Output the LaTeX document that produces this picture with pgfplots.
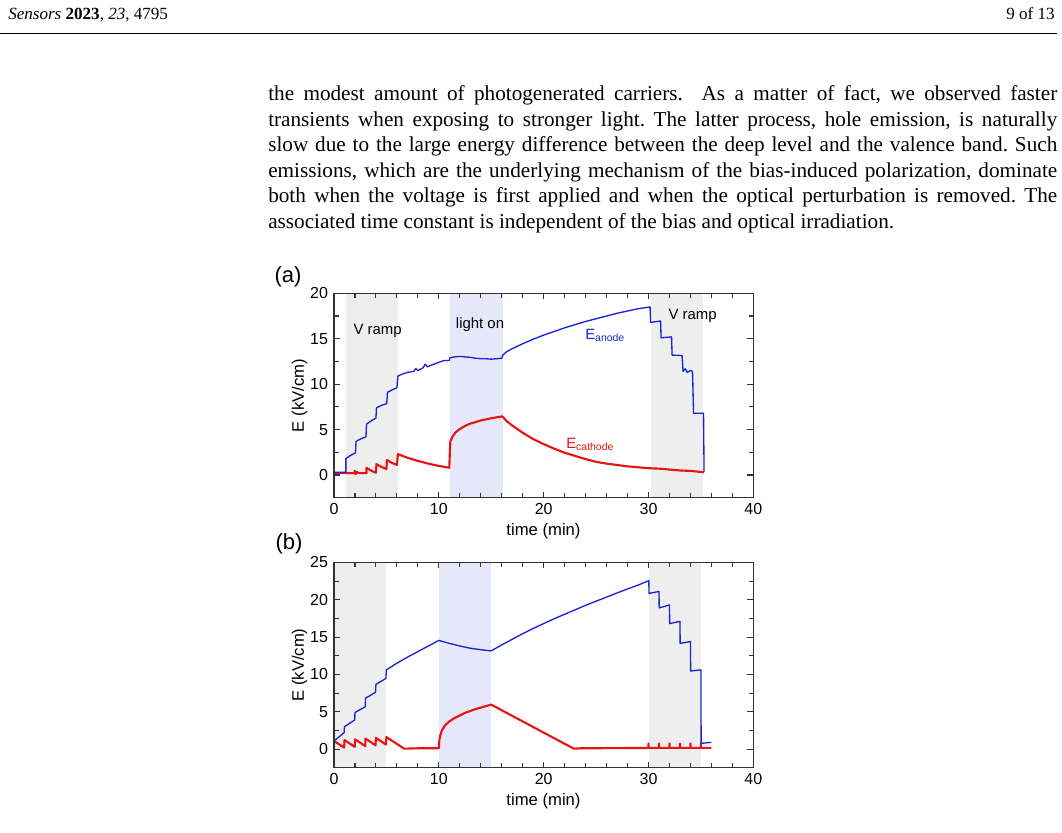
\documentclass[border=0pt]{standalone}
\usepackage{fontspec}
\setmainfont{Liberation Serif}
\newfontfamily\bodyfont{Liberation Serif}
\newfontfamily\chartfont{Liberation Sans}
\usepackage{pgfplots}
\pgfplotsset{compat=1.18}
\frenchspacing
\definecolor{lineblue}{RGB}{25,35,215}
\definecolor{linered}{RGB}{232,20,20}
\definecolor{shgray}{RGB}{238,238,238}
\definecolor{shblue}{RGB}{230,232,250}
\definecolor{axgray}{RGB}{50,50,50}
\newcommand{\tl}{\chartfont\fontsize{12}{13}\selectfont}
\newcommand{\al}{\chartfont\fontsize{12.5}{14}\selectfont}
\newcommand{\an}{\chartfont\fontsize{11.2}{13}\selectfont}
\pgfplotsset{
  panel/.style={
    scale only axis, width=314.5pt,
    xmin=0, xmax=40, ymin=-2.5,
    xtick={0,10,20,30,40}, minor x tick num=4, minor y tick num=1,
    tick align=inside, axis on top,
    major tick length=4.5pt, minor tick length=3.5pt,
    every tick/.style={axgray, line width=0.8pt},
    axis line style={axgray, line width=0.9pt},
    tick label style={font=\tl},
    /pgf/number format/assume math mode=true,
    xticklabel style={yshift=-1pt},
    yticklabel style={xshift=-1pt},
  }
}
\begin{document}
\begin{tikzpicture}
\begin{scope}[x=0.75pt,y=-0.75pt]
\useasboundingbox (0,0) rectangle (1062,832);
\coordinate (A) at (334,497.7);
\coordinate (B) at (334,767.7);
% header
\node[anchor=base west,inner sep=0] at (8,19.5) {\fontsize{12.8}{14}\selectfont\textit{Sensors} \textbf{2023}, \textit{23}, 4795};
\node[anchor=base east,inner sep=0] at (1055,19.5) {\fontsize{12.8}{14}\selectfont 9 of 13};
\draw[line width=1.1pt] (0,33.5) -- (1057,33.5);
% body text
\begin{scope}[every node/.style={anchor=base west,inner sep=0,font=\bodyfont\fontsize{15.9}{19}\selectfont}]
\node at (268,100.5) {\makebox[591.75pt][s]{the modest amount of photogenerated carriers.\ \ As a matter of fact, we observed faster}};
\node at (268,126.1) {\makebox[591.75pt][s]{transients when exposing to stronger light. The latter process, hole emission, is naturally}};
\node at (268,151.7) {\makebox[591.75pt][s]{slow due to the large energy difference between the deep level and the valence band. Such}};
\node at (268,177.3) {\makebox[591.75pt][s]{emissions, which are the underlying mechanism of the bias-induced polarization, dominate}};
\node at (268,202.9) {\makebox[591.75pt][s]{both when the voltage is first applied and when the optical perturbation is removed. The}};
\node at (268,228.5) {associated time constant is independent of the bias and optical irradiation.};
\end{scope}
\end{scope}

% ---------------- panel (a) ----------------
\begin{axis}[panel, at={(A)}, anchor=south west, height=153.3pt, ymax=20, ytick={0,5,10,15,20}]
\addplot[draw=none, fill=shgray] coordinates {(1.1,-2.5) (1.1,20) (6.1,20) (6.1,-2.5)} -- cycle;
\addplot[draw=none, fill=shblue] coordinates {(11.1,-2.5) (11.1,20) (16.1,20) (16.1,-2.5)} -- cycle;
\addplot[draw=none, fill=shgray] coordinates {(30.2,-2.5) (30.2,20) (35.2,20) (35.2,-2.5)} -- cycle;
% E cathode
\addplot[linered, line width=1.6pt, line join=round] coordinates {
(0,0.2) (1.9,0.2) (2.0,0.45) (2.05,0.1) (2.2,0.35) (2.3,0.2) (3.1,0.2) (3.1,0.8) (3.5,0.5) (4.0,0.25)
(4.05,1.2) (4.5,0.9) (5.0,0.65) (5.05,1.65) (5.5,1.35) (6.0,1.1) (6.1,2.3) (7,1.9) (8,1.55) (9,1.25)
(10,1.0) (11.0,0.8) (11.05,2.5) (11.1,3.7) (11.3,4.2) (11.6,4.7) (12,5.05) (12.5,5.4) (13,5.65) (14,6.0)
(15,6.25) (16.05,6.45) (16.5,5.9) (17,5.45) (18,4.65) (19,3.95) (20,3.4) (21,2.9) (22,2.45) (23,2.1)
(24,1.75) (25,1.45) (26,1.25) (27,1.1) (28,0.95) (29,0.85) (30,0.75) (31,0.7) (32,0.6) (33,0.5)
(34,0.45) (35.3,0.3)};
% E anode
\addplot[lineblue, line width=1pt, line join=round] coordinates {
(0,0.3) (1.13,0.3) (1.13,1.8) (1.5,2.1) (2.05,2.45) (2.1,3.7) (2.6,4.0) (3.05,4.2) (3.1,5.6) (3.6,6.0)
(4.0,6.25) (4.05,7.4) (4.6,7.7) (5.03,7.85) (5.1,9.1) (5.6,9.4) (6.0,9.6) (6.1,10.9) (6.5,11.1) (7.0,11.3)
(7.6,11.4) (7.8,11.7) (8.0,11.5) (8.5,11.8) (8.7,12.2) (8.9,11.9) (9.3,12.1) (10,12.4) (10.5,12.6) (11.0,12.6)
(11.05,12.9) (11.5,13.0) (12.0,13.05) (12.5,13.0) (13,12.95) (13.5,12.85) (14,12.8) (14.5,12.8) (15,12.75) (15.5,12.8)
(16.0,12.85) (16.1,13.2) (16.5,13.6) (17,13.9) (18,14.45) (19,14.95) (20,15.4) (21,15.8) (22,16.2) (23,16.55)
(24,16.9) (25,17.2) (26,17.5) (27,17.8) (28,18.05) (29,18.3) (30.15,18.5) (30.2,16.8) (31.15,16.95) (31.2,15.1)
(32.2,15.2) (32.25,13.2) (33.2,13.15) (33.3,11.4) (33.5,11.7) (33.7,11.3) (34.0,11.5) (34.2,11.4) (34.3,6.8) (35.25,6.8)
(35.3,0.35)};
\end{axis}

% ---------------- panel (b) ----------------
\begin{axis}[panel, at={(B)}, anchor=south west, height=154pt, ymax=25, ytick={0,5,10,15,20,25}]
\addplot[draw=none, fill=shgray] coordinates {(0,-2.5) (0,25) (5,25) (5,-2.5)} -- cycle;
\addplot[draw=none, fill=shblue] coordinates {(10,-2.5) (10,25) (15,25) (15,-2.5)} -- cycle;
\addplot[draw=none, fill=shgray] coordinates {(30,-2.5) (30,25) (35,25) (35,-2.5)} -- cycle;
% E cathode
\addplot[linered, line width=1.6pt, line join=round] coordinates {
(0,1.07) (0.97,0.2) (1.0,1.2) (1.98,0.3) (2.0,1.3) (2.99,0.4) (3.0,1.4) (3.96,0.5) (4.0,1.5) (4.95,0.6)
(5.0,1.6) (6.7,0.05) (8,0.1) (10.0,0.1) (10.05,1.2) (10.15,1.9) (10.3,2.5) (10.6,3.2) (11,3.7) (11.5,4.15)
(12,4.5) (12.5,4.85) (13,5.1) (13.5,5.35) (14,5.55) (14.5,5.75) (15,5.95) (16,5.2) (17,4.45) (18,3.7)
(19,2.95) (20,2.2) (21,1.45) (22,0.7) (22.9,0.05) (23.5,0.1) (30,0.15) (30,0.75) (30,0.15) (31,0.15)
(31,0.75) (31,0.15) (32,0.15) (32,0.75) (32,0.15) (33,0.15) (33,0.75) (33,0.15) (34,0.15) (34,0.75)
(34,0.15) (35,0.15) (35,0.75) (35,0.15) (36,0.15)};
% E anode
\addplot[lineblue, line width=1pt, line join=round] coordinates {
(0,1.07) (0.97,2.2) (1.0,3.0) (1.98,3.9) (2.0,4.9) (2.99,5.67) (3.0,6.8) (3.96,7.6) (4.0,8.66) (4.95,9.46)
(5.0,10.6) (6,11.5) (7,12.3) (8,13.05) (9,13.8) (10,14.55) (10.5,14.35) (11,14.15) (12,13.8) (13,13.5)
(14,13.3) (15,13.15) (16,13.95) (17,14.7) (18,15.45) (19,16.15) (20,16.8) (21,17.45) (22,18.05) (23,18.65)
(24,19.25) (25,19.8) (26,20.35) (27,20.9) (28,21.45) (29,21.95) (30.03,22.55) (30.05,20.85) (31.0,21.1) (31.02,18.9)
(32.0,19.3) (32.02,16.8) (33.0,17.1) (33.02,14.15) (34.0,14.4) (34.02,10.45) (35.0,10.6) (35.02,0.76) (36.0,0.9)};
\end{axis}

\begin{scope}[x=0.75pt,y=-0.75pt]
\node[font=\chartfont\fontsize{16.5}{18}\selectfont, inner sep=0] at (288,276.5) {(a)};
\node[font=\chartfont\fontsize{16.5}{18}\selectfont, inner sep=0] at (289,544) {(b)};
\node[font=\al, rotate=90, inner sep=0] at (299.5,395.5) {E (kV/cm)};
\node[font=\al, rotate=90, inner sep=0] at (299.5,665) {E (kV/cm)};
\node[font=\al, inner sep=0] at (543.5,531) {time (min)};
\node[font=\al, inner sep=0] at (543.5,801) {time (min)};
\node[font=\an, anchor=base west, inner sep=0] at (353.3,334) {V ramp};
\node[font=\an, anchor=base west, inner sep=0] at (455.7,328.3) {light on};
\node[font=\an, anchor=base west, inner sep=0] at (668.3,319.3) {V ramp};
\node[font=\an, anchor=base west, inner sep=0, text=lineblue] at (585,339.3) {E\textsubscript{anode}};
\node[font=\an, anchor=base west, inner sep=0, text=linered] at (566,448.3) {E\textsubscript{cathode}};
\end{scope}
\end{tikzpicture}
\end{document}
